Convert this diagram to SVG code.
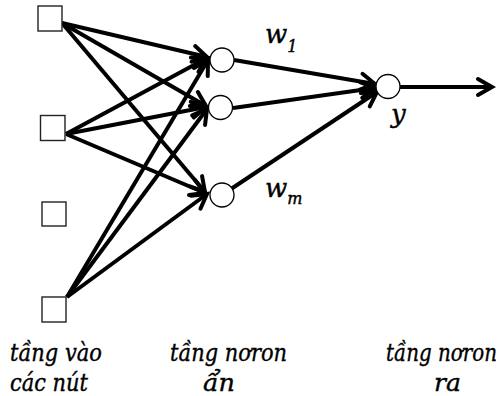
<svg xmlns="http://www.w3.org/2000/svg" width="504" height="396" viewBox="0 0 504 396">
  <style>
    .edge { stroke: #000; stroke-width: 4; fill: none; marker-end: url(#arrow); }
    .box { fill: #fff; stroke: #222; stroke-width: 1.4; }
    .neuron { fill: #fff; stroke: #000; stroke-width: 1.3; }
    text { font-family: "DejaVu Serif", "Liberation Serif", serif; font-style: italic; fill: #000; stroke: #000; stroke-width: 0.4; }
    .lbl { font-size: 25px; }
    .sym { font-size: 26px; }
    .sub { font-size: 16px; }
  </style>
  <defs>
    <marker id="arrow" markerUnits="userSpaceOnUse" viewBox="-18 -10 22 20" markerWidth="22" markerHeight="20" refX="0" refY="0" orient="auto" overflow="visible">
      <path d="M-14,-8 L0,0 L-14,8" fill="none" stroke="#000" stroke-width="4" stroke-linecap="round" stroke-linejoin="miter"/>
    </marker>
  </defs>

  <!-- connectors -->
  <g id="connectors">
    <!-- input 1 -->
    <line class="edge" x1="62" y1="23" x2="207" y2="57"/>
    <line class="edge" x1="62" y1="23" x2="206" y2="106"/>
    <line class="edge" x1="62" y1="23" x2="205" y2="192"/>
    <!-- input 2 -->
    <line class="edge" x1="66" y1="134" x2="207" y2="58"/>
    <line class="edge" x1="66" y1="134" x2="206" y2="107"/>
    <line class="edge" x1="66" y1="134" x2="205" y2="193"/>
    <!-- input 4 -->
    <line class="edge" x1="67" y1="297" x2="208" y2="60"/>
    <line class="edge" x1="67" y1="297" x2="207" y2="109"/>
    <line class="edge" x1="67" y1="297" x2="207" y2="194"/>
    <!-- hidden to output -->
    <line class="edge" x1="234" y1="60" x2="375" y2="84"/>
    <line class="edge" x1="233" y1="108" x2="375" y2="88"/>
    <line class="edge" x1="231" y1="189" x2="377" y2="92"/>
    <!-- output -->
    <line class="edge" x1="400" y1="87" x2="492" y2="87"/>
  </g>

  <!-- input layer -->
  <g id="in1"><rect class="box" x="38" y="6" width="24" height="25"/></g>
  <g id="in2"><rect class="box" x="40.5" y="115.5" width="24.5" height="25"/></g>
  <g id="in3"><rect class="box" x="42" y="202" width="24" height="24"/></g>
  <g id="in4"><rect class="box" x="42" y="297" width="24" height="25"/></g>

  <!-- hidden layer -->
  <g id="h1"><circle class="neuron" cx="222" cy="60" r="12"/></g>
  <g id="h2"><circle class="neuron" cx="220.5" cy="107.5" r="12"/></g>
  <g id="h3"><circle class="neuron" cx="222" cy="195" r="12"/></g>

  <!-- output neuron -->
  <g id="out"><circle class="neuron" cx="388" cy="86.5" r="12"/></g>

  <!-- weights, output symbol and layer captions -->
  <g id="labels">
    <text class="sym" x="265" y="43">w<tspan class="sub" dy="9">1</tspan></text>
    <text class="sym" x="265" y="197">w<tspan class="sub" dy="7">m</tspan></text>
    <text class="sym" x="391" y="123">y</text>

    <text class="lbl" x="10" y="361" textLength="92" lengthAdjust="spacingAndGlyphs">tầng vào</text>
    <text class="lbl" x="10" y="391" textLength="78" lengthAdjust="spacingAndGlyphs">các nút</text>
    <text class="lbl" x="170" y="361" textLength="117" lengthAdjust="spacingAndGlyphs">tầng nơron</text>
    <text class="lbl" x="203" y="391" textLength="32" lengthAdjust="spacingAndGlyphs">ẩn</text>
    <text class="lbl" x="386" y="361" textLength="111" lengthAdjust="spacingAndGlyphs">tầng nơron</text>
    <text class="lbl" x="434" y="391" textLength="27" lengthAdjust="spacingAndGlyphs">ra</text>
  </g>
</svg>
